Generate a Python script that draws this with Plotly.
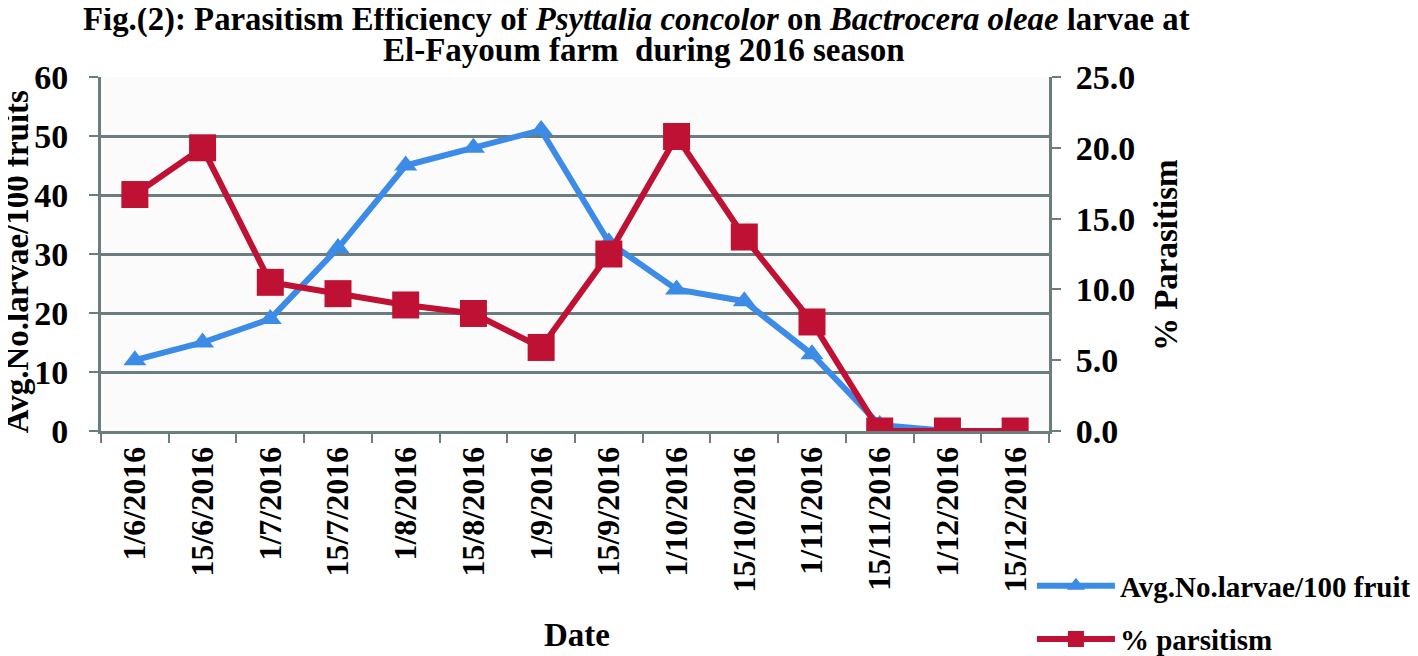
import plotly.graph_objects as go

dates = ["1/6/2016", "15/6/2016", "1/7/2016", "15/7/2016", "1/8/2016", "15/8/2016",
         "1/9/2016", "15/9/2016", "1/10/2016", "15/10/2016", "1/11/2016", "15/11/2016",
         "1/12/2016", "15/12/2016"]
avg_larvae = [12, 15, 19, 31, 45, 48, 51, 32, 24, 22, 13, 1, 0, 0]
parasitism = [16.7, 20.0, 10.5, 9.7, 8.9, 8.3, 5.9, 12.5, 20.8, 13.7, 7.7, 0.0, 0.0, 0.0]

title_line1 = "<b>Fig.(2): Parasitism Efficiency of <i>Psyttalia concolor</i> on <i>Bactrocera oleae</i> larvae at</b>"
title_line2 = "<b>El-Fayoum farm  during 2016 season</b>"
y_title = "<b>Avg.No.larvae/100 fruits</b>"
y2_title = "<b>% Parasitism</b>"
x_title = "<b>Date</b>"

FONT = "Liberation Serif"
BLUE = "#3C8BE6"
RED = "#BE1133"
GRID = "#6B7D7E"

fig = go.Figure()
fig.add_trace(go.Scatter(
    x=dates, y=avg_larvae, name="Avg.No.larvae/100 fruit", mode="lines+markers",
    line=dict(color=BLUE, width=6), marker=dict(symbol="triangle-up", size=20, color=BLUE),
    legend="legend", yaxis="y"))
fig.add_trace(go.Scatter(
    x=dates, y=parasitism, name="% parsitism", mode="lines+markers",
    line=dict(color=RED, width=6), marker=dict(symbol="square", size=27, color=RED),
    legend="legend2", yaxis="y2"))

def note(text, x, y, size, angle=0):
    fig.add_annotation(text=text, xref="paper", yref="paper", x=x, y=y,
                       xanchor="center", yanchor="middle", showarrow=False,
                       textangle=angle, font=dict(family=FONT, size=size, color="black"))

note(title_line1, 0.5654, 1.163, 32.8)
note(title_line2, 0.5728, 1.075, 33)
note(y_title, -0.0886, 0.477, 33, -90)
note(y2_title, 1.1234, 0.497, 33, -90)
note(x_title, 0.502, -0.576, 33)

legend_common = dict(
    xref="container", yref="container", orientation="h",
    xanchor="left", yanchor="middle",
    font=dict(family=FONT, size=29, color="black", weight="bold"),
    bgcolor="rgba(0,0,0,0)", itemwidth=78)

fig.update_layout(
    width=1410, height=648,
    margin=dict(l=93, r=369, t=69, b=225),
    paper_bgcolor="white", plot_bgcolor="#FBFBFB",
    font=dict(family=FONT, color="black", size=26),
    showlegend=True,
    xaxis=dict(
        type="category", range=[-0.5, 13.5], tickangle=-90, showgrid=False, automargin=False,
        showline=True, linecolor=GRID, linewidth=3,
        ticks="outside", tickson="boundaries", ticklen=9, tickwidth=2, tickcolor=GRID,
        tickfont=dict(family=FONT, size=32, color="black", weight="bold")),
    yaxis=dict(
        range=[0, 60], dtick=10, showgrid=True, gridcolor=GRID, gridwidth=3,
        showline=True, linecolor=GRID, linewidth=3, zeroline=False, automargin=False,
        ticks="outside", ticklen=9, tickwidth=2, tickcolor=GRID, ticklabelstandoff=14,
        tickfont=dict(family=FONT, size=34, color="black", weight="bold")),
    yaxis2=dict(
        range=[0, 25], dtick=5, tickformat=".1f", overlaying="y", side="right",
        showgrid=False, showline=True, linecolor=GRID, linewidth=3, zeroline=False,
        automargin=False,
        ticks="outside", ticklen=9, tickwidth=2, tickcolor=GRID, ticklabelstandoff=8,
        tickfont=dict(family=FONT, size=34, color="black", weight="bold")),
    legend=dict(x=0.7262, y=0.108, **legend_common),
    legend2=dict(x=0.7262, y=0.026, **legend_common),
)

fig.write_html("out.html")
